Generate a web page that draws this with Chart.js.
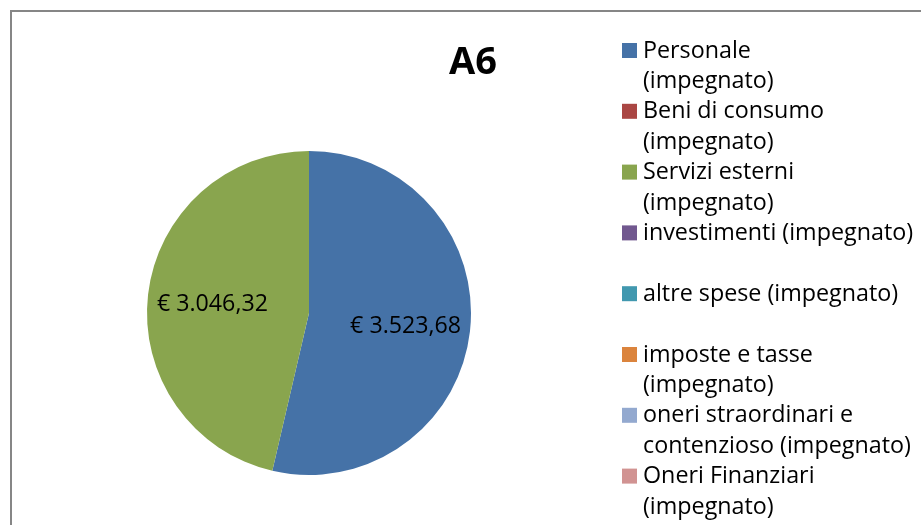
<!DOCTYPE html>
<html>
<head>
<meta charset="utf-8">
<script src="https://cdn.jsdelivr.net/npm/chart.js@4.4.1/dist/chart.umd.min.js"></script>
<style>
  html, body { margin: 0; padding: 0; background: #fff; }
  #wrap { width: 921px; height: 525px; position: relative; }
</style>
</head>
<body>
<div id="wrap"><canvas id="pie-chart" width="921" height="525"></canvas></div>
<script>
// chart data
const title = 'A6';
const categories = [
  ['Personale', '(impegnato)'],
  ['Beni di consumo', '(impegnato)'],
  ['Servizi esterni', '(impegnato)'],
  ['investimenti (impegnato)'],
  ['altre spese (impegnato)'],
  ['imposte e tasse', '(impegnato)'],
  ['oneri straordinari e', 'contenzioso (impegnato)'],
  ['Oneri Finanziari', '(impegnato)']
];
const values = [3523.68, 0, 3046.32, 0, 0, 0, 0, 0];
const colors = ['#4572A7', '#AA4643', '#89A54E', '#71588F', '#4198AF', '#DB843D', '#93A9CF', '#D19392'];

const FONT = "'Open Sans', 'Liberation Sans', sans-serif";

// euro format like "€ 3.523,68"
function formatEuro(v) {
    let parts = v.toFixed(2).split('.');
    let intPart = parts[0].replace(/\B(?=(\d{3})+(?!\d))/g, '.');
    return '€ ' + intPart + ',' + parts[1];
}

// frame around the chart
const framePlugin = {
    id: 'frame',
    beforeDraw(chart) {
        const ctx = chart.ctx;
        ctx.save();
        ctx.fillStyle = '#fff';
        ctx.fillRect(0, 0, chart.width, chart.height);
        ctx.strokeStyle = '#868686';
        ctx.lineWidth = 2;
        ctx.beginPath();
        ctx.moveTo(11, chart.height + 2);
        ctx.lineTo(11, 11);
        ctx.lineTo(chart.width + 2, 11);
        ctx.stroke();
        ctx.restore();
    }
};

// title, slice labels and wrapped legend
const textPlugin = {
    id: 'texts',
    afterDraw(chart) {
        const ctx = chart.ctx;
        ctx.save();

        // title
        ctx.fillStyle = '#000';
        ctx.font = "bold 38px " + FONT;
        ctx.textAlign = 'center';
        ctx.textBaseline = 'middle';
        ctx.fillText(title, 473, 63);

        // value labels on slices
        ctx.font = "20px " + FONT;
        let lblFit = 111 / ctx.measureText(formatEuro(values[0])).width;
        ctx.font = (20 * lblFit).toFixed(1) + "px " + FONT;
        const meta = chart.getDatasetMeta(0);
        meta.data.forEach(function(arc, i) {
            if (!values[i]) return;
            const p = arc.getProps(['x', 'y', 'startAngle', 'endAngle', 'outerRadius'], true);
            const mid = (p.startAngle + p.endAngle) / 2;
            const r = p.outerRadius * 0.6;
            ctx.fillText(formatEuro(values[i]), p.x + Math.cos(mid) * r, p.y + Math.sin(mid) * r + 2);
        });

        // legend
        ctx.textAlign = 'left';
        ctx.font = "20px " + FONT;
        const fit = 268 / ctx.measureText('contenzioso (impegnato)').width;
        ctx.font = (20 * fit).toFixed(1) + "px " + FONT;
        const lineH = 30.4;
        for (let i = 0; i < categories.length; i++) {
            const y0 = 50 + i * lineH * 2;
            ctx.fillStyle = colors[i];
            ctx.fillRect(622, y0 - 7, 15, 15);
            ctx.fillStyle = '#000';
            categories[i].forEach(function(line, j) {
                ctx.fillText(line, 643, y0 + j * lineH + 1);
            });
        }
        ctx.restore();
    }
};

const data = {
    labels: categories.map(c => c.join(' ')),
    datasets: [
        {
            data: values,
            backgroundColor: colors,
            borderWidth: 0
        }
    ]
};

const config = {
    type: 'pie',
    data: data,
    options: {
        responsive: false,
        animation: false,
        layout: {
            padding: { left: 147, top: 151, right: 450, bottom: 50 }
        },
        plugins: {
            legend: { display: false },
            title: { display: false },
            tooltip: { enabled: false }
        }
    },
    plugins: [framePlugin, textPlugin]
};

const pieChart = new Chart(
    document.getElementById('pie-chart'),
    config
);
</script>
</body>
</html>
